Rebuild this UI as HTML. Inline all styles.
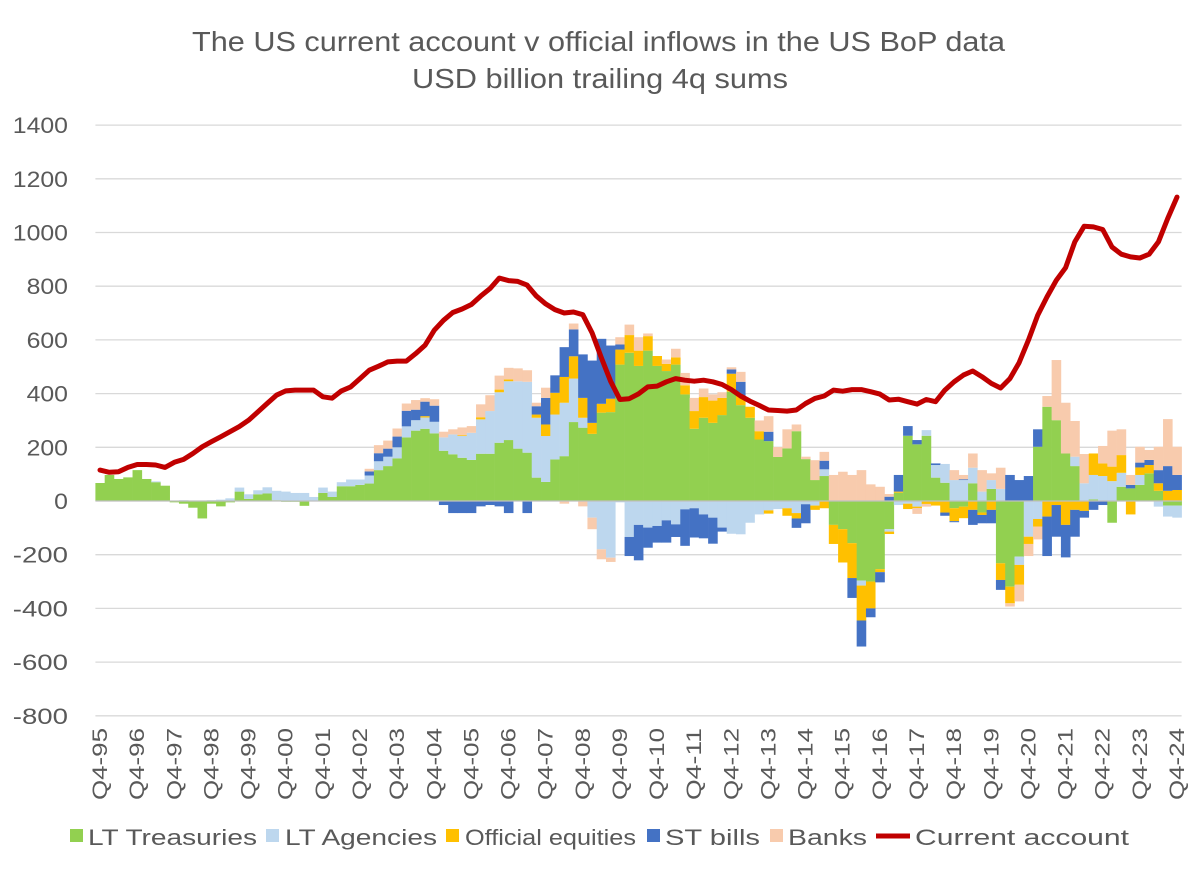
<!DOCTYPE html>
<html><head><meta charset="utf-8"><style>
html,body{margin:0;padding:0;background:#fff;}
svg{display:block;font-family:"Liberation Sans",Calibri,sans-serif;}
</style></head><body>
<svg id="chart" width="1200" height="872" viewBox="0 0 1200 872">
<rect x="0" y="0" width="1200" height="872" fill="#fff"/>
<text x="192" y="51" textLength="813" lengthAdjust="spacingAndGlyphs" font-size="28" fill="#595959">The US current account v official inflows in the US BoP data</text>
<text x="412" y="88" textLength="376" lengthAdjust="spacingAndGlyphs" font-size="28" fill="#595959">USD billion trailing 4q sums</text>
<g id="grid"></g><g id="yticks"></g><g id="bars"></g><g id="zero"></g><g id="line"></g><g id="xticks"></g>
<g id="legend">
<rect x="70" y="829" width="13" height="13" fill="#92d050"/>
<text x="88" y="845" textLength="169" lengthAdjust="spacingAndGlyphs" font-size="22" fill="#595959">LT Treasuries</text>
<rect x="266" y="829" width="13" height="13" fill="#bdd7ee"/>
<text x="285" y="845" textLength="152" lengthAdjust="spacingAndGlyphs" font-size="22" fill="#595959">LT Agencies</text>
<rect x="446" y="829" width="13" height="13" fill="#ffc000"/>
<text x="465" y="845" textLength="171" lengthAdjust="spacingAndGlyphs" font-size="22" fill="#595959">Official equities</text>
<rect x="647" y="829" width="13" height="13" fill="#4472c4"/>
<text x="665" y="845" textLength="95" lengthAdjust="spacingAndGlyphs" font-size="22" fill="#595959">ST bills</text>
<rect x="770" y="829" width="13" height="13" fill="#f8cbad"/>
<text x="788" y="845" textLength="79" lengthAdjust="spacingAndGlyphs" font-size="22" fill="#595959">Banks</text>
<line x1="876" y1="836" x2="910" y2="836" stroke="#c00000" stroke-width="5"/>
<text x="915" y="845" textLength="214" lengthAdjust="spacingAndGlyphs" font-size="22" fill="#595959">Current account</text>
</g>
</svg>
<script>
const yTicks=[-800,-600,-400,-200,0,200,400,600,800,1000,1200,1400];
const years=["95","96","97","98","99","00","01","02","03","04","05","06","07","08","09","10","11","12","13","14","15","16","17","18","19","20","21","22","23","24"];
const treasuries=[67,97,82,88,115,82,70,57,-5,-10,-25,-65,-10,-20,-5,35,8,25,28,3,-3,-3,-18,0,30,15,55,55,60,65,115,130,159,237,262,269,252,187,174,161,153,176,176,217,227,195,180,87,71,155,167,294,273,250,329,331,508,552,503,560,503,484,508,397,269,310,291,320,407,357,310,229,223,164,196,260,156,78,93,-89,-105,-157,-296,-300,-254,-105,31,243,211,243,87,68,-27,-21,66,-43,45,-232,-319,-207,0,202,351,301,177,130,0,6,0,-81,53,47,60,103,38,-17,-17];
const agencies=[0,0,0,0,0,0,3,0,0,3,0,0,3,5,10,15,17,15,23,35,35,30,30,15,20,20,15,25,20,30,33,35,41,41,39,42,43,50,74,81,101,128,159,188,219,251,264,223,171,167,199,162,37,-62,-180,-211,-5,-134,-89,-99,-93,-72,-87,-31,-27,-50,-62,-99,-122,-124,-81,-50,-35,-30,-27,-45,-12,-17,25,0,0,0,-19,0,0,-9,-15,-10,-21,21,47,70,78,78,58,35,33,45,0,-31,-133,-67,0,0,0,35,66,91,93,74,52,0,37,0,-21,-41,-45];
const equities=[0,0,0,0,0,0,0,0,0,0,0,0,0,0,0,0,0,0,0,0,0,0,0,0,0,0,0,0,0,0,0,0,0,0,0,5,0,0,0,3,0,8,0,10,7,0,0,12,43,81,96,83,74,41,33,50,56,66,57,54,37,27,27,34,66,77,83,64,67,34,41,31,-12,0,-28,-20,0,-16,-27,-71,-124,-130,-130,-100,-11,-9,4,-20,-5,-11,-17,-43,-48,-43,-33,-9,-33,-62,-62,-74,-27,-28,-58,-15,-89,-33,-37,80,47,54,66,-50,28,31,28,38,41];
const bills=[0,0,0,0,0,0,0,0,0,0,0,0,0,0,0,0,0,0,0,0,0,0,0,0,0,0,0,0,0,15,30,30,40,58,39,54,60,-15,-45,-45,-45,-20,-15,-20,-45,0,-45,31,99,65,111,100,162,232,242,198,19,-71,-132,-75,-62,-83,-47,-136,-109,-89,-97,-15,16,53,0,0,35,0,0,-35,-71,0,32,0,0,-74,-97,-33,-38,16,62,36,16,0,6,-12,-4,3,-56,-31,-50,-37,97,78,93,65,-147,-118,-121,-100,-25,-33,-15,0,0,13,18,19,49,92,56];
const banks=[0,0,0,0,0,0,0,0,0,0,0,0,0,0,0,0,0,0,0,0,0,0,0,0,0,0,0,0,0,10,30,30,30,27,36,13,24,21,19,29,25,48,59,52,43,48,43,13,38,0,-10,22,-20,-43,-37,-16,27,39,50,10,0,16,32,46,49,32,23,21,8,37,0,40,58,37,71,25,9,74,33,97,109,97,115,62,53,10,0,0,-22,-10,0,0,37,16,53,80,25,79,-12,-62,-45,-48,40,224,189,133,109,0,65,134,96,37,59,37,87,175,105];
const currentAccount=[115,107,109,125,136,136,134,125,144,155,177,202,221,239,258,277,301,332,363,394,410,413,413,413,388,383,410,425,456,487,502,518,521,521,549,580,636,673,702,715,732,763,791,830,821,818,804,763,734,713,700,704,694,626,533,446,378,381,399,425,428,444,456,450,446,450,444,434,415,391,372,356,339,337,335,339,363,382,391,413,409,415,415,407,398,376,379,370,361,378,370,413,444,469,484,463,438,421,456,515,599,692,760,822,869,965,1023,1021,1011,946,919,909,905,919,965,1052,1132];

const NS="http://www.w3.org/2000/svg";
const left=95.4, right=1181.6, N=currentAccount.length;
const bw=(right-left)/N;
const xC=i=>left+bw*(i+0.5);
const yS=v=>501-v*(53.7/200);
function mk(tag,attrs,parent){const e=document.createElementNS(NS,tag);for(const k in attrs)e.setAttribute(k,attrs[k]);parent.appendChild(e);return e;}
const grid=document.getElementById('grid'),yt=document.getElementById('yticks');
yTicks.forEach(v=>{
  const l=mk('line',{x1:left,x2:right,y1:yS(v),y2:yS(v),stroke:v===0?'#bfbfbf':'#d9d9d9','stroke-width':1.3},v===0?document.getElementById('zero'):grid);
  
  
  const s=String(v);
  const t=mk('text',{x:68,y:yS(v)+8,'text-anchor':'end','font-size':22,fill:'#595959',textLength:13.8*s.length,lengthAdjust:'spacingAndGlyphs'},yt);
  t.textContent=s;
  
  
});
const series=[[treasuries,'#92d050','treasuries'],[agencies,'#bdd7ee','agencies'],[equities,'#ffc000','equities'],[bills,'#4472c4','bills'],[banks,'#f8cbad','banks']];
const barsG=document.getElementById('bars');
for(let i=0;i<N;i++){
  let pos=0,neg=0;
  series.forEach(([arr,col,name])=>{
    const v=arr[i]; if(!v)return;
    let y0,y1;
    if(v>0){y0=pos;y1=pos+v;pos=y1;}else{y0=neg;y1=neg+v;neg=y1;}
    const top=Math.min(yS(y0),yS(y1)),h=Math.abs(yS(y1)-yS(y0));
    const r=mk('rect',{x:left+bw*i,y:top,width:bw+0.3,height:h,fill:col},barsG);
    
    
  });
}
const pts=currentAccount.map((v,i)=>xC(i).toFixed(1)+','+yS(v).toFixed(1)).join(' ');
const pl=mk('polyline',{points:pts,fill:'none',stroke:'#c00000','stroke-width':5,'stroke-linejoin':'round','stroke-linecap':'round'},document.getElementById('line'));


const xt=document.getElementById('xticks');
years.forEach((yy,k)=>{
  const i=k*4, x=xC(i)+7, y=728;
  const t=mk('text',{x:x,y:y,'text-anchor':'end','font-size':21,fill:'#595959',textLength:72,lengthAdjust:'spacingAndGlyphs',transform:'rotate(-90 '+x+' '+y+')'},xt);
  t.textContent='Q4-'+yy;
  
  
});
</script>
</body></html>
